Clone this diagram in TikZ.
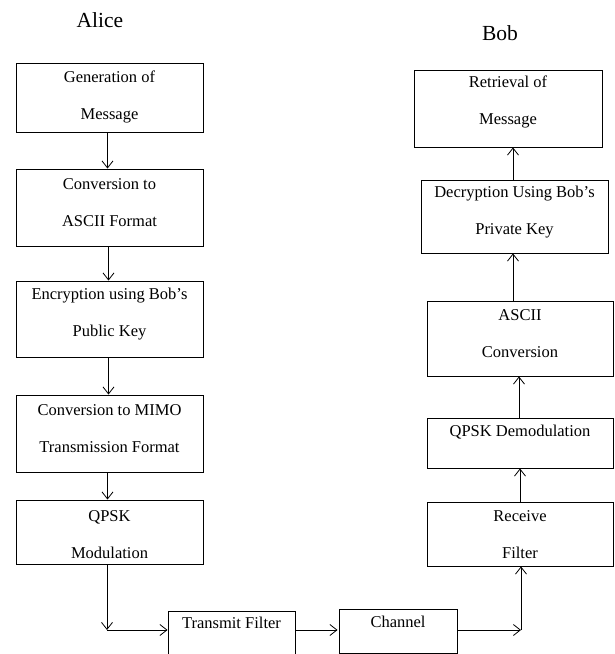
\documentclass[tikz,border=0pt]{standalone}
\usepackage{fontspec}
\setmainfont{Liberation Serif}
\usetikzlibrary{arrows.meta,calc}
\begin{document}
\begin{tikzpicture}[x=1pt,y=-1pt,
  box/.style={draw, line width=0.9pt, inner sep=0pt},
  txt/.style={align=center, inner sep=0pt, font=\fontsize{16.5}{37}\selectfont},
  who/.style={inner sep=0pt, font=\fontsize{21.5}{26}\selectfont},
  arr/.style={line width=0.8pt, -{Straight Barb[length=7pt,width=11pt,line width=0.8pt]}},
  ln/.style={line width=0.8pt}]
\useasboundingbox (0,0) rectangle (614,654);
\clip (0,0) rectangle (614,654);
% labels
\node[who] (alice) at (100,20) {Alice};
\node[who] (bob) at (500,33) {Bob};
% Alice boxes
\node[box, minimum width=187pt, minimum height=69pt] (b1) at (109.5,97.5) {};
\node[box, minimum width=187pt, minimum height=77pt] (b2) at (109.5,207.5) {};
\node[box, minimum width=187pt, minimum height=76pt] (b3) at (109.5,319) {};
\node[box, minimum width=187pt, minimum height=77pt] (b4) at (109.5,433.5) {};
\node[box, minimum width=187pt, minimum height=64pt] (b5) at (109.5,532) {};
\node[txt] (t1) at (109.5,97) {Generation of\\Message};
\node[txt] (t2) at (109.5,202.5) {Conversion to\\ASCII Format};
\node[txt] (t3) at (109.5,314.5) {Encryption using Bob’s\\Public Key};
\node[txt] (t4) at (109.5,428.5) {Conversion to MIMO\\Transmission Format};
\node[txt] (t5) at (109.5,535) {QPSK\\Modulation};
% bottom boxes
\node[box, minimum width=127pt, minimum height=50pt] (tf) at (231.5,636) {};
\node[box, minimum width=118pt, minimum height=44pt] (ch) at (398,631) {};
\node[txt] (ttf) at (231.5,623) {Transmit Filter};
\node[txt] (tch) at (398,622) {Channel};
% Bob boxes
\node[box, minimum width=188pt, minimum height=77pt] (r1) at (508,108.5) {};
\node[box, minimum width=187pt, minimum height=73pt] (r2) at (514.5,216.5) {};
\node[box, minimum width=186pt, minimum height=75pt] (r3) at (520,338.5) {};
\node[box, minimum width=186pt, minimum height=50pt] (r4) at (520,443) {};
\node[box, minimum width=186pt, minimum height=64pt] (r5) at (520,534) {};
\node[txt] (s1) at (508,102) {Retrieval of\\Message};
\node[txt] (s2) at (514.5,212.5) {Decryption Using Bob’s\\Private Key};
\node[txt] (s3) at (520,333.5) {ASCII\\Conversion};
\node[txt] (s4) at (520,432) {QPSK Demodulation};
\node[txt] (s5) at (520,534.5) {Receive\\Filter};
% corners
\coordinate (c1) at (107,630);
\coordinate (c2) at (521,630);
% Alice arrows
\draw[arr] ([xshift=-2pt]b1.south) -- ([xshift=-2pt]b2.north);
\draw[arr] ([xshift=-1pt]b2.south) -- ([xshift=-1pt]b3.north);
\draw[arr] ([xshift=-1pt]b3.south) -- ([xshift=-1pt]b4.north);
\draw[arr] ([xshift=-2pt]b4.south) -- ([xshift=-2pt]b5.north);
\draw[arr] (b5.south -| c1) -- (c1);
\draw[arr] (c1) -- (c1 -| tf.west);
\draw[arr] (tf.east |- c1) -- ($(c1 -| ch.west)+(-1,0)$);
\draw[arr] (ch.east |- c2) -- (c2);
\draw[arr] (c2) -- (c2 |- r5.south);
% Bob arrows
\draw[arr] (r5.north) -- (r4.south);
\draw[arr] ([xshift=-1pt]r4.north) -- ([xshift=-1pt]r3.south);
\draw[arr] ([xshift=-1.5pt]r3.north -| r2.south) -- ([xshift=-1.5pt]r2.south);
\draw[arr] ([xshift=-1.5pt]r2.north) -- ([xshift=-1.5pt]r2.north |- r1.south);
\end{tikzpicture}
\end{document}
